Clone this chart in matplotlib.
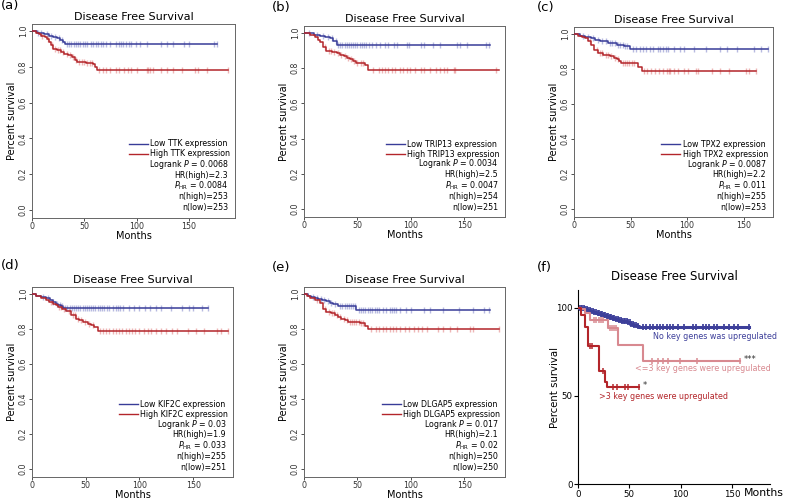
import numpy as np
import matplotlib
matplotlib.use("Agg")
import matplotlib.pyplot as plt
from matplotlib.lines import Line2D

# ---- data (months, survival fraction) ----
genes = ["TTK", "TRIP13", "TPX2", "KIF2C", "DLGAP5"]
logrank_p = ["0.0068", "0.0034", "0.0087", "0.03", "0.017"]
hr_high = ["2.3", "2.5", "2.2", "1.9", "2.1"]
p_hr = ["0.0084", "0.0047", "0.011", "0.033", "0.02"]
n_high = [253, 254, 255, 255, 250]
n_low = [253, 251, 253, 251, 250]

a_low_t = [0, 5, 11, 16, 20, 24, 27, 30, 32]
a_low_s = [1.0, 0.99, 0.985, 0.975, 0.97, 0.96, 0.95, 0.94, 0.93]
a_low_end = 177
a_low_cens = [6, 9, 14, 18, 22, 26, 29, 33, 35, 37, 40, 42, 44, 46, 49, 51, 53, 56, 58, 61, 63, 66, 68,
              71, 75, 80, 83, 85, 87, 90, 93, 95, 99, 103, 110, 123, 129, 135, 145, 150, 174, 177]
a_high_t = [0, 4, 7, 9, 12, 14, 16, 18, 20, 24, 28, 31, 34, 38, 41, 43, 47, 52, 58, 60, 62]
a_high_s = [1.0, 0.99, 0.985, 0.975, 0.965, 0.955, 0.94, 0.92, 0.9, 0.895, 0.885, 0.875, 0.865,
            0.855, 0.84, 0.83, 0.825, 0.82, 0.815, 0.8, 0.78]
a_high_end = 187
a_high_cens = [10, 15, 19, 22, 25, 27, 30, 33, 36, 39, 42, 45, 48, 50, 53, 55, 57, 64, 68, 71, 75, 80,
               83, 88, 92, 95, 100, 110, 111, 113, 116, 123, 129, 135, 143, 156, 159, 167, 187]

b_low_t = [0, 9, 15, 20, 24, 27.5, 31]
b_low_s = [1.0, 0.99, 0.985, 0.975, 0.97, 0.955, 0.93]
b_low_end = 174
b_low_cens = [5, 12, 18, 22, 26, 30, 32, 34, 36, 38, 40, 42, 44, 46, 48, 50, 52, 54, 56, 58, 61, 64, 67,
              71, 76, 79, 84, 87, 96, 98, 109, 112, 121, 127.5, 143, 146, 152.5, 170.6, 173]
b_high_t = [0, 5.6, 10, 13, 15, 18, 21, 26, 30.6, 34, 37, 40, 43, 46, 49, 57, 60]
b_high_s = [1.0, 0.99, 0.975, 0.96, 0.95, 0.92, 0.9, 0.895, 0.885, 0.875, 0.87, 0.86, 0.85, 0.84,
            0.83, 0.82, 0.79]
b_high_end = 182
b_high_cens = [20, 23, 25, 28, 32, 35, 38, 41, 44, 47, 50, 53, 55, 65, 70, 73, 76, 79, 82, 85, 90, 93,
               96, 99, 104, 109, 112, 118, 123, 127.5, 130.6, 134, 140, 141.5, 180]

c_low_t = [0, 5, 9.5, 15, 19, 23, 30, 37.6, 44, 49.4]
c_low_s = [1.0, 0.99, 0.985, 0.975, 0.965, 0.96, 0.95, 0.935, 0.93, 0.915]
c_low_end = 172
c_low_cens = [8, 12, 17, 21, 25, 28, 32, 34, 36, 39, 41, 43, 45, 47, 52, 55, 58, 61, 64, 67, 70, 74,
              76, 79, 81, 83, 88, 94, 97, 106, 117, 129, 135, 144, 159, 165, 172]
c_high_t = [0, 3.5, 7, 9.5, 12.4, 15, 18, 21, 26, 31.6, 35, 37.6, 40, 42, 57, 60]
c_high_s = [1.0, 0.99, 0.985, 0.975, 0.96, 0.94, 0.91, 0.89, 0.88, 0.875, 0.865, 0.855, 0.845,
            0.835, 0.81, 0.79]
c_high_end = 161
c_high_cens = [14, 20, 23, 25, 28, 30, 33, 36, 39, 43, 45, 47, 49, 51, 53, 62, 65, 68, 72, 75, 79, 82,
               84, 85, 88, 92, 97, 101, 108, 110, 122, 129, 137, 152, 155, 161]

d_low_t = [0, 4, 8.7, 13, 17, 19.6, 22, 24, 27, 29]
d_low_s = [1.0, 0.99, 0.985, 0.975, 0.965, 0.955, 0.945, 0.94, 0.93, 0.92]
d_low_end = 164
d_low_cens = [10, 15, 20, 23, 26, 28, 31, 33, 35, 37, 39, 41, 43, 45, 47, 49, 51, 53, 55, 57, 59, 61,
              63, 65, 67, 70, 72, 75, 78, 80, 82, 85, 90, 95, 100, 105, 110, 115, 120, 129, 140, 146,
              150, 158, 164]
d_high_t = [0, 4, 8.7, 13, 16, 19.6, 22, 24, 28, 32, 36.6, 41, 44, 47.5, 52, 55, 58, 61.5]
d_high_s = [1.0, 0.99, 0.975, 0.965, 0.955, 0.945, 0.935, 0.925, 0.915, 0.905, 0.88, 0.86, 0.85,
            0.84, 0.83, 0.825, 0.81, 0.79]
d_high_end = 182
d_high_cens = [18, 25, 27, 30, 34, 38, 40, 43, 46, 49, 53, 57, 63, 66, 69, 72, 75, 78, 81, 84, 87, 90,
               93, 96, 100, 104, 108, 111, 115, 120, 125, 130, 135, 145, 153, 160, 172, 176, 182]

e_low_t = [0, 4, 7, 10, 13.4, 17, 21, 24, 27.5, 32, 49]
e_low_s = [1.0, 0.99, 0.985, 0.975, 0.97, 0.965, 0.96, 0.95, 0.945, 0.93, 0.91]
e_low_end = 174
e_low_cens = [8, 12, 16, 19, 22, 25, 29, 34, 36, 38, 40, 42, 44, 46, 48, 51, 53, 55, 57, 60, 62, 64,
              66, 68, 70, 74, 77, 80, 82, 84, 86, 90, 95, 100, 112, 118, 130, 145, 158, 168, 173]
e_high_t = [0, 2.5, 5.6, 10, 15, 18, 21, 25, 29, 32, 35, 38, 41.6, 52.5, 57, 60]
e_high_s = [1.0, 0.99, 0.98, 0.965, 0.95, 0.915, 0.895, 0.89, 0.88, 0.87, 0.86, 0.85, 0.84, 0.835,
            0.82, 0.8]
e_high_end = 182
e_high_cens = [12, 20, 23, 26, 28, 31, 34, 37, 40, 43, 45, 47, 49, 51, 53, 55, 63, 67, 70, 74, 77, 80,
               83, 86, 90, 94, 98, 103, 107, 110, 115, 125, 130, 137, 143, 155, 158, 182]

# panel (f), percent survival
f_none_t = [0, 3, 6, 9, 12, 15, 18, 21, 24, 27, 30, 33, 36, 39, 42, 45, 48, 51, 54, 57, 59]
f_none_s = [100, 99.6, 99.2, 98.6, 98.0, 97.4, 96.8, 96.2, 95.6, 95.0, 94.5, 94.0, 93.5, 93.0, 92.6,
            92.2, 91.6, 91.0, 90.3, 89.6, 89.0]
f_none_end = 167
f_none_cens = [1, 2.5, 4, 5.5, 7, 8.5, 10, 11.5, 13, 14.5, 16, 17.5, 19, 20.5, 22, 23.5, 25, 26.5, 28,
               29.5, 31, 32.5, 34, 35.5, 37, 38.5, 40, 41.5, 43, 44.5, 46, 47.5, 49, 50.5, 52, 53.5, 55,
               56.5, 58, 63, 66, 70, 73, 77, 80, 83, 87, 90, 93, 97, 103, 112, 115, 122, 125, 128, 132,
               135, 142, 147, 152, 156, 167]
f_mid_t = [0, 3, 7, 12, 29.5, 38.5, 63.5]
f_mid_s = [100, 99, 97, 93, 88.5, 79, 70]
f_mid_end = 158
f_mid_cens = [16, 18, 20, 22, 24, 31, 33, 35, 37, 72, 78, 83, 88, 99, 116, 158]
f_top_t = [0, 3, 7, 9.5, 20.5, 26, 28.5]
f_top_s = [100, 96, 89, 78, 64, 58, 55]
f_top_end = 59
f_top_cens = [12, 14, 24, 34, 37.5, 45.5, 49, 59]

f_labels = ["No key genes was upregulated", "<=3 key genes were upregulated",
            ">3 key genes were upregulated"]

BLUE = "#383c98"
RED = "#b3252a"
PINK = "#d88990"


def km(ax, t, s, end, cens, color, lw=1.1, ms=4.5, mcolor=None, alpha=0.55, mew=1.0):
    tt = list(t) + [end]
    ss = list(s) + [s[-1]]
    ax.step(tt, ss, where="post", color=color, lw=lw, zorder=3)
    idx = np.searchsorted(t, cens, side="right") - 1
    cy = np.array(s)[idx]
    ax.plot(cens, cy, ls="none", marker="|", ms=ms, mew=mew,
            color=mcolor or color, alpha=alpha, zorder=2)


fig = plt.figure(figsize=(7.85, 5.0), dpi=100)
W, H = 785.0, 500.0


def px_axes(l, t, r, b):
    return fig.add_axes([l / W, 1 - b / H, (r - l) / W, (b - t) / H])


panels = [
    (px_axes(32, 24, 235, 218), 194, a_low_t, a_low_s, a_low_end, a_low_cens,
     a_high_t, a_high_s, a_high_end, a_high_cens),
    (px_axes(304, 26, 505, 217), 188, b_low_t, b_low_s, b_low_end, b_low_cens,
     b_high_t, b_high_s, b_high_end, b_high_cens),
    (px_axes(574, 27, 773, 217), 176, c_low_t, c_low_s, c_low_end, c_low_cens,
     c_high_t, c_high_s, c_high_end, c_high_cens),
    (px_axes(32, 287, 233, 477), 187, d_low_t, d_low_s, d_low_end, d_low_cens,
     d_high_t, d_high_s, d_high_end, d_high_cens),
    (px_axes(304, 287, 505, 477), 188, e_low_t, e_low_s, e_low_end, e_low_cens,
     e_high_t, e_high_s, e_high_end, e_high_cens),
]

for i, (ax, xmax, lt, ls_, le, lc, ht, hs, he, hc) in enumerate(panels):
    km(ax, lt, ls_, le, lc, BLUE, mcolor="#7d82c8")
    km(ax, ht, hs, he, hc, RED, mcolor="#e07a7a")
    ax.set_xlim(0, xmax)
    ax.set_ylim(-0.045, 1.04)
    ax.set_xticks([0, 50, 100, 150])
    ax.set_yticks(np.arange(0, 1.01, 0.2))
    ax.set_yticklabels(["%.1f" % v for v in np.arange(0, 1.01, 0.2)], rotation=90, va="center")
    ax.tick_params(length=2.5, width=0.6, labelsize=5.7, pad=0.6, colors="#333333")
    for sp in ax.spines.values():
        sp.set_color("#666666")
        sp.set_linewidth(0.7)
    ax.set_title("Disease Free Survival", fontsize=8, pad=3)
    ax.set_xlabel("Months", fontsize=7, labelpad=-0.5)
    ax.set_ylabel("Percent survival", fontsize=7, labelpad=1)
    g = genes[i]
    handles = [Line2D([], [], color=BLUE, lw=1.0), Line2D([], [], color=RED, lw=1.0)]
    ax.legend(handles, ["Low %s expression" % g, "High %s expression" % g],
              loc="upper right", bbox_to_anchor=(0.975, 0.405), frameon=False,
              fontsize=5.7, handlelength=2.4, handletextpad=0.3, labelspacing=0.12,
              borderpad=0, borderaxespad=0)
    stats = [r"Logrank $P$ = %s" % logrank_p[i],
             "HR(high)=%s" % hr_high[i],
             r"$P_{\mathrm{HR}}$ = %s" % p_hr[i],
             "n(high)=%d" % n_high[i],
             "n(low)=%d" % n_low[i]]
    for k, txt in enumerate(stats):
        ax.text(0.966, 0.278 - k * 0.0565, txt, transform=ax.transAxes,
                ha="right", va="center", fontsize=5.7)

# panel (f)
axf = px_axes(578, 290, 770, 484)
km(axf, f_none_t, f_none_s, f_none_end, f_none_cens, "#3d3f9a", lw=2.2, ms=4, alpha=0.9, mew=1.4)
km(axf, f_mid_t, f_mid_s, f_mid_end, f_mid_cens, PINK, lw=1.5, ms=4, alpha=0.9, mew=1.2)
km(axf, f_top_t, f_top_s, f_top_end, f_top_cens, RED, lw=1.5, ms=4, alpha=0.9, mew=1.2)
axf.set_xlim(0, 187)
axf.set_ylim(0, 110)
axf.set_xticks([0, 50, 100, 150])
axf.set_yticks([0, 50, 100])
axf.spines["top"].set_visible(False)
axf.spines["right"].set_visible(False)
axf.tick_params(length=3, width=0.8, labelsize=6.2, pad=1)
axf.set_title("Disease Free Survival", fontsize=8.5, pad=7)
axf.set_ylabel("Percent survival", fontsize=7.3, labelpad=-3)
axf.text(0.865, -0.046, "Months", transform=axf.transAxes, ha="left", va="center", fontsize=7.8)
axf.text(73, 83.4, f_labels[0], color="#3d3f9a", fontsize=5.8, va="center", clip_on=False)
axf.text(55.5, 65.7, f_labels[1], color=PINK, fontsize=5.8, va="center", clip_on=False)
axf.text(20.4, 49.5, f_labels[2], color=RED, fontsize=5.8, va="center", clip_on=False)
axf.text(161, 70.5, "***", color="#333333", fontsize=6, va="center")
axf.text(63, 56, "*", color="#333333", fontsize=6, va="center")

for lab, x, y in [("(a)", 1, 6), ("(b)", 272, 7), ("(c)", 537, 7),
                  ("(d)", 1, 265), ("(e)", 272, 268), ("(f)", 537, 268)]:
    fig.text(x / W, 1 - y / H, lab, fontsize=9.5, ha="left", va="center")

fig.savefig("out.png", dpi=100)
